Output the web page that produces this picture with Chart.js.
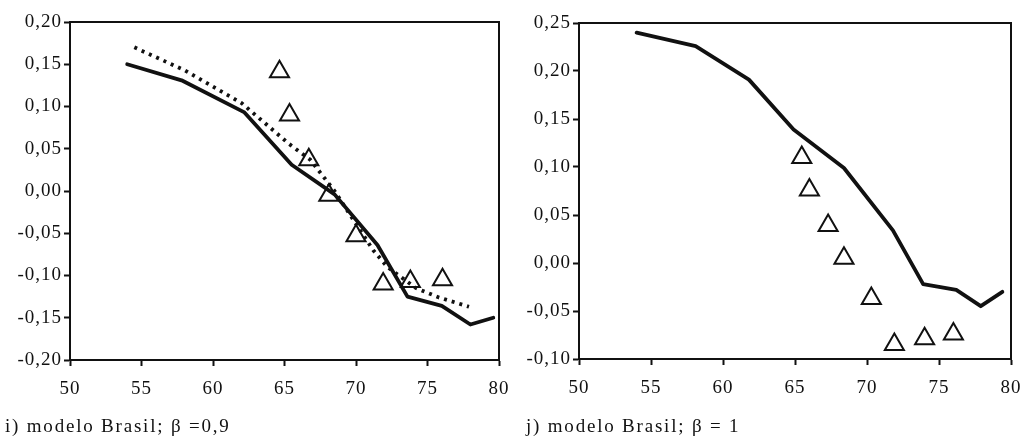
<!DOCTYPE html>
<html lang="pt">
<head>
<meta charset="UTF-8">
<script src="https://cdn.jsdelivr.net/npm/chart.js"></script>
<title>modelo Brasil</title>
<style>
    body { margin: 0; background: #fff; }
    .painel { position: absolute; top: 0; width: 512px; height: 438px; }
    .legenda { position: absolute; top: 415px; font: 19px "Liberation Serif", serif; color: #111; letter-spacing: 1.8px; }
</style>
</head>
<body>
<div class="painel" style="left:0"><canvas id="graficoI"></canvas></div>
<div class="painel" style="left:512px"><canvas id="graficoJ"></canvas></div>
<div class="legenda" style="left:5px">i) modelo Brasil; β =0,9</div>
<div class="legenda" style="left:526px">j) modelo Brasil; β = 1</div>

<script>
    // painel i) beta = 0,9
    const idadeSolidaI = [54, 57.8, 62.2, 65.5, 68.5, 71.5, 73.6, 76, 78, 79.6];
    const valorSolidaI = [0.15, 0.131, 0.093, 0.031, -0.004, -0.064, -0.125, -0.136, -0.158, -0.15];
    const idadePontilhadaI = [54.5, 58, 62, 65.3, 66.8, 68.5, 71.2, 72.2, 74.2, 75.8, 77.9];
    const valorPontilhadaI = [0.17, 0.143, 0.104, 0.056, 0.037, 0.0, -0.07, -0.09, -0.115, -0.126, -0.137];
    const idadeObsI = [64.65, 65.35, 66.7, 68.1, 70.0, 71.9, 73.8, 76.05];
    const valorObsI = [0.141, 0.09, 0.037, -0.005, -0.053, -0.11, -0.107, -0.105];

    // painel j) beta = 1
    const idadeSolidaJ = [54, 58.1, 61.8, 64.9, 68.4, 71.8, 73.9, 76.2, 77.9, 79.4];
    const valorSolidaJ = [0.24, 0.226, 0.191, 0.139, 0.099, 0.034, -0.022, -0.028, -0.045, -0.03];
    const idadeObsJ = [65.47, 66.0, 67.3, 68.4, 70.3, 71.9, 74.0, 76.0];
    const valorObsJ = [0.11, 0.076, 0.039, 0.005, -0.037, -0.085, -0.079, -0.074];

    const ticksX = [50, 55, 60, 65, 70, 75, 80];
    const ticksYI = [0.2, 0.15, 0.1, 0.05, 0, -0.05, -0.1, -0.15, -0.2];
    const ticksYJ = [0.25, 0.2, 0.15, 0.1, 0.05, 0, -0.05, -0.1];

    Chart.defaults.font.family = '"Liberation Serif", "Times New Roman", serif';
    Chart.defaults.font.size = 19;
    Chart.defaults.color = '#111';

    // espacamento das letras dos rotulos (texto escaneado e mais largo)
    const espacamento = {
        id: 'espacamento',
        beforeDraw(chart) { chart.ctx.letterSpacing = '1px'; }
    };

    function pares(xs, ys) {
        return xs.map((x, i) => ({ x: x, y: ys[i] }));
    }

    function virgula(v) {
        return v.toFixed(2).replace('.', ',');
    }

    function criarGrafico(id, series, ticksY, larguraY, layout) {
        const ctx = document.getElementById(id).getContext('2d');
        return new Chart(ctx, {
            type: 'scatter',
            data: { datasets: series },
            plugins: [espacamento],
            options: {
                responsive: true,
                maintainAspectRatio: false,
                animation: false,
                layout: { padding: { top: layout.top, right: layout.right, bottom: 0, left: 0 } },
                plugins: { legend: { display: false }, tooltip: { enabled: false } },
                scales: {
                    x: {
                        type: 'linear', min: 50, max: 80,
                        afterBuildTicks: s => { s.ticks = ticksX.map(v => ({ value: v })); },
                        ticks: { padding: 12, callback: v => v },
                        grid: { drawOnChartArea: false, drawTicks: true, tickLength: 6, tickWidth: 2, color: '#111' },
                        border: { color: '#111', width: 2 },
                        afterFit: s => {
                            s.height = layout.xAltura;
                            s.paddingLeft = 0;
                            s.paddingRight = 0;
                        }
                    },
                    y: {
                        type: 'linear', min: ticksY[ticksY.length - 1], max: ticksY[0],
                        afterBuildTicks: s => { s.ticks = ticksY.map(v => ({ value: v })); },
                        ticks: { padding: 2, callback: v => virgula(v) },
                        grid: { drawOnChartArea: false, drawTicks: true, tickLength: 6, tickWidth: 2, color: '#111' },
                        border: { color: '#111', width: 2 },
                        afterFit: s => {
                            s.width = larguraY;
                            s.paddingTop = 0;
                            s.paddingBottom = 0;
                        }
                    },
                    topo: {
                        type: 'linear', position: 'top', min: 50, max: 80,
                        ticks: { display: false }, grid: { display: false },
                        border: { color: '#111', width: 2 },
                        afterFit: s => { s.height = 0; }
                    },
                    direita: {
                        type: 'linear', position: 'right', min: -1, max: 1,
                        ticks: { display: false }, grid: { display: false },
                        border: { color: '#111', width: 2 },
                        afterFit: s => { s.width = 0; }
                    }
                }
            }
        });
    }

    const linhaSolida = { showLine: true, borderColor: '#111', borderWidth: 3.8, pointRadius: 0, tension: 0, borderJoinStyle: 'round', borderCapStyle: 'round' };
    const triangulos = { pointStyle: 'triangle', pointRadius: 11, pointBorderWidth: 2, pointBorderColor: '#111', pointBackgroundColor: 'rgba(0,0,0,0)', showLine: false };

    criarGrafico('graficoI', [
        Object.assign({ data: pares(idadeSolidaI, valorSolidaI) }, linhaSolida),
        { data: pares(idadePontilhadaI, valorPontilhadaI), showLine: true, borderColor: '#111', borderWidth: 3.8, borderDash: [3, 5], pointRadius: 0, tension: 0 },
        Object.assign({ data: pares(idadeObsI, valorObsI) }, triangulos)
    ], ticksYI, 70, { top: 22, right: 10, xAltura: 78 });

    criarGrafico('graficoJ', [
        Object.assign({ data: pares(idadeSolidaJ, valorSolidaJ) }, linhaSolida),
        Object.assign({ data: pares(idadeObsJ, valorObsJ) }, triangulos)
    ], ticksYJ, 67, { top: 23, right: 13, xAltura: 79 });
</script>
</body>
</html>
